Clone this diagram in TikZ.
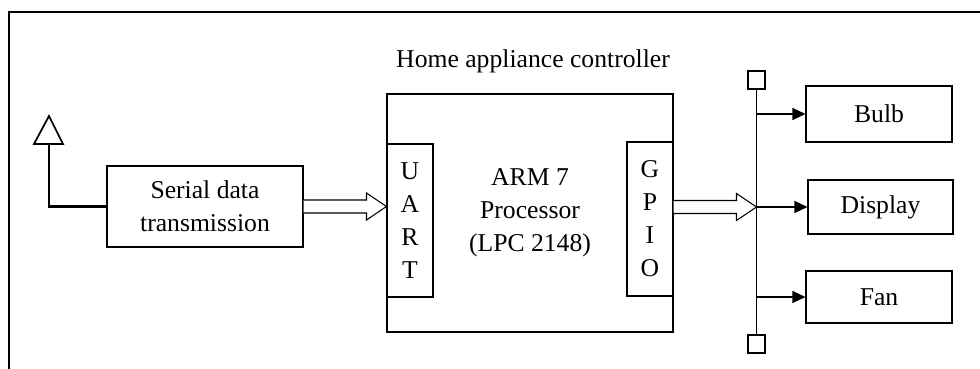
\documentclass[tikz,border=0pt]{standalone}
\usepackage{fontspec}
\setmainfont{Liberation Serif}
\usetikzlibrary{arrows.meta,calc}

\begin{document}
\begin{tikzpicture}[
    font=\fontsize{14.6}{18.8}\selectfont,
    block/.style={draw, line width=0.6pt, inner sep=0pt, align=center},
    tap/.style={draw, line width=0.6pt, minimum width=0.34cm, minimum height=0.36cm, inner sep=0pt},
    hollow/.style={draw, line width=0.6pt, fill=white},
    branch/.style={line width=0.6pt, -{Triangle[length=0.26cm,width=0.24cm]}}
]
    \useasboundingbox (0,0) rectangle (19.6,7.36);

    % outer frame
    \draw[line width=1.7pt] (0.18,-0.5) rectangle (20.5,7.12);

    % controller
    \node (title) at (10.66,6.14) {Home appliance controller};
    \node[block, minimum width=5.72cm, minimum height=4.76cm] (arm) at (10.6,3.1) {ARM 7\\Processor\\(LPC 2148)};
    \node[block, minimum width=0.92cm, minimum height=3.06cm] (uart) at (8.2,2.95) {U\\A\\R\\T};
    \node[block, minimum width=0.92cm, minimum height=3.08cm] (gpio) at (13.0,2.98) {G\\P\\I\\O};

    % receiver side
    \node[block, minimum width=3.92cm, minimum height=1.62cm] (serial) at (4.1,3.23) {Serial data\\transmission};

    % antenna
    \coordinate (feed) at (0.98,4.48);
    \draw[line width=1pt] (0.68,4.48) -- (0.98,5.04) -- (1.26,4.48) -- cycle;
    \draw[line width=1.4pt] (feed) |- (serial.west);

    % loads
    \node[block, minimum width=2.92cm, minimum height=1.12cm] (bulb) at (17.58,5.08) {Bulb};
    \node[block, minimum width=2.90cm, minimum height=1.08cm] (display) at (17.61,3.22) {Display};
    \node[block, minimum width=2.92cm, minimum height=1.04cm] (fan) at (17.58,1.42) {Fan};

    % bus
    \node[tap] (termtop) at (15.13,5.76) {};
    \node[tap] (termbot) at (15.13,0.48) {};
    \draw[line width=1.1pt] (termtop.south) -- (termbot.north);

    \foreach \dev in {bulb,display,fan}
        \draw[branch] (\dev.west -| termtop.south) -- (\dev.west);

    % hollow arrows
    \draw[hollow] let \p1=(serial.east), \p2=(uart.west) in
        (\x1,\y1+0.13cm) -- (\x2-0.4cm,\y1+0.13cm) -- (\x2-0.4cm,\y1+0.27cm) -- (\x2,\y1)
        -- (\x2-0.4cm,\y1-0.27cm) -- (\x2-0.4cm,\y1-0.13cm) -- (\x1,\y1-0.13cm);
    \draw[hollow] let \p1=(gpio.east |- display.west), \p2=(termtop.south) in
        (\x1,\y1+0.13cm) -- (\x2-0.4cm,\y1+0.13cm) -- (\x2-0.4cm,\y1+0.27cm) -- (\x2,\y1)
        -- (\x2-0.4cm,\y1-0.27cm) -- (\x2-0.4cm,\y1-0.13cm) -- (\x1,\y1-0.13cm);

\end{tikzpicture}
\end{document}
